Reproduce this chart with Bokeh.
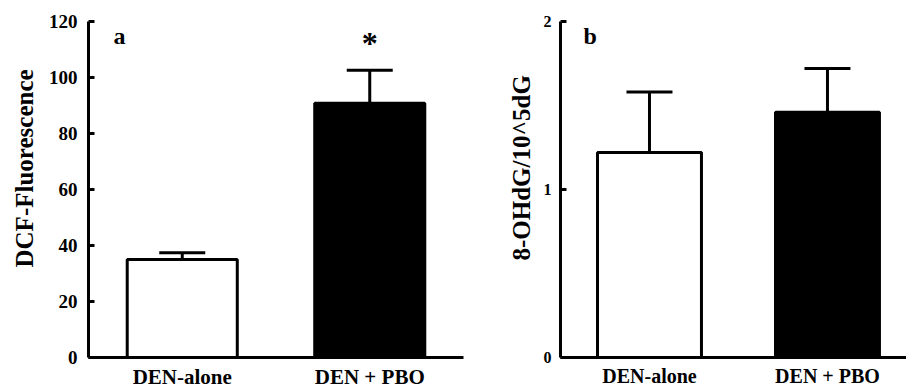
import math
from bokeh.plotting import figure
from bokeh.models import (Range1d, FixedTicker, Whisker, TeeHead, Label, Title,
                          ColumnDataSource)
from bokeh.layouts import row
from bokeh.embed import file_html
from bokeh.resources import INLINE

# ---- data ----
categories = ["DEN-alone", "DEN + PBO"]
dcf_mean = [35.0, 90.8]
dcf_sem = [2.4, 11.8]
ohdg_mean = [1.22, 1.46]
ohdg_sem = [0.36, 0.26]
bar_colors = ["white", "black"]
dcf_ticks = [0, 20, 40, 60, 80, 100, 120]
ohdg_ticks = [0, 1, 2]
dcf_title = "DCF-Fluorescence"
ohdg_title = "8-OHdG/10^5dG"
panel_letters = ["a", "b"]
signif_mark = "*"

FONT = "Liberation Serif"


def panel(width, border_left, border_right, x_end, y_end, ticks, means, sems,
          tick_font, tick_standoff, cat_font, title, title_offset, title_standoff,
          letter, letter_dx, bar_w):
    xs = [i + 0.5 for i in range(len(categories))]
    src = ColumnDataSource(dict(
        x=xs, top=means, upper=[m + s for m, s in zip(means, sems)],
        color=bar_colors))
    p = figure(width=width, height=391, output_backend="svg", toolbar_location=None,
               x_range=Range1d(0, x_end), y_range=Range1d(0, y_end),
               min_border_left=border_left, min_border_right=border_right,
               min_border_top=21, min_border_bottom=31)
    p.outline_line_color = None
    p.grid.visible = False
    p.background_fill_color = "white"
    p.border_fill_color = "white"

    p.vbar(x="x", top="top", width=bar_w, source=src, fill_color="color",
           line_color="black", line_width=3)
    w = Whisker(base="x", lower="top", upper="upper", source=src, dimension="height",
                line_width=3, line_color="black", lower_head=None,
                upper_head=TeeHead(size=46, line_width=3, line_color="black"))
    w.level = "overlay"
    p.add_layout(w)

    # x axis: categories as tick labels, no tick marks
    p.xaxis.ticker = FixedTicker(ticks=xs)
    p.xaxis.major_label_overrides = {x: c for x, c in zip(xs, categories)}
    p.xaxis.axis_line_width = 3
    p.xaxis.major_tick_line_color = None
    p.xaxis.major_tick_out = 0
    p.xaxis.major_tick_in = 0
    p.xaxis.minor_tick_line_color = None
    p.xaxis.major_label_text_font = FONT
    p.xaxis.major_label_text_font_style = "bold"
    p.xaxis.major_label_text_font_size = cat_font
    p.xaxis.major_label_text_color = "black"
    p.xaxis.major_label_standoff = 7

    # y axis
    p.yaxis.ticker = FixedTicker(ticks=ticks)
    p.yaxis.axis_line_width = 3
    p.yaxis.major_tick_in = 6
    p.yaxis.major_tick_out = 0
    p.yaxis.major_tick_line_width = 3
    p.yaxis.minor_tick_line_color = None
    p.yaxis.major_label_text_font = FONT
    p.yaxis.major_label_text_font_style = "bold"
    p.yaxis.major_label_text_font_size = tick_font
    p.yaxis.major_label_standoff = tick_standoff
    p.yaxis.major_label_text_color = "black"

    p.add_layout(Title(text=title, align="left", offset=title_offset,
                       vertical_align="middle", standoff=title_standoff,
                       text_font=FONT, text_font_style="bold",
                       text_font_size="25px", text_color="black"), "left")
    p.add_layout(Label(x=letter_dx, y=322, x_units="screen", y_units="screen",
                       text=letter, text_align="left", text_baseline="alphabetic",
                       text_font=FONT, text_font_style="bold",
                       text_font_size="24px", text_color="black"))
    return p, xs


p1, xs1 = panel(470, 88, 7, 2.0, 120, dcf_ticks, dcf_mean, dcf_sem,
                "19px", 11, "21px", dcf_title, 90, 13, panel_letters[0], 25, 0.587)
p1.add_layout(Label(x=xs1[1], y=dcf_mean[1] + dcf_sem[1], text=signif_mark,
                    y_offset=27, text_align="center", text_baseline="alphabetic",
                    text_font=FONT, text_font_style="bold", text_font_size="32px",
                    text_color="black"))

p2, xs2 = panel(436, 90, 0, 1.944, 2, ohdg_ticks, ohdg_mean, ohdg_sem,
                "16px", 9, "20px", ohdg_title, 97, 10, panel_letters[1], 23, 0.584)

layout = row(p1, p2)
open("out.html", "w").write(file_html(layout, INLINE))
